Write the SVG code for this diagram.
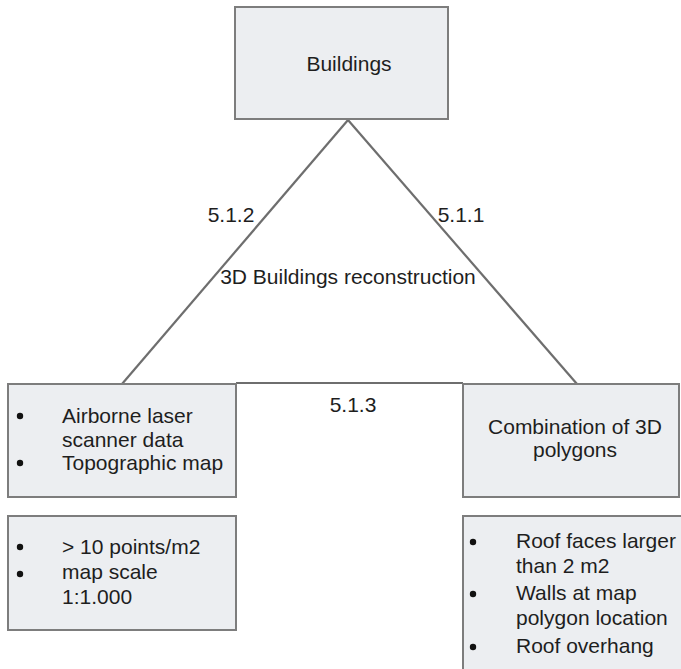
<svg xmlns="http://www.w3.org/2000/svg" width="681" height="669" viewBox="0 0 681 669">
<style>
.box{fill:#eceef1;stroke:#7d7d7d;stroke-width:2}
.ln{stroke:#6e6e6e;stroke-width:2.2;fill:none}
text{font-family:"Liberation Sans",Arial,sans-serif;font-size:21px;fill:#1e1e1e}
.c{text-anchor:middle}
.b{fill:#111}
</style>
<rect width="681" height="669" fill="#ffffff"/>
<g id="connectors">
<line class="ln" x1="348" y1="120" x2="122" y2="384"/>
<line class="ln" x1="348" y1="120" x2="577" y2="384"/>
<line class="ln" x1="236" y1="383" x2="463" y2="383"/>
<text x="231" y="222" class="c">5.1.2</text>
<text x="461" y="222" class="c">5.1.1</text>
<text x="348" y="284" class="c">3D Buildings reconstruction</text>
<text x="353" y="412" class="c">5.1.3</text>
</g>
<g id="buildings">
<rect class="box" x="235" y="7" width="213" height="112"/>
<text x="349" y="71" class="c">Buildings</text>
</g>
<g id="inputs">
<rect class="box" x="8" y="384" width="228" height="113"/>
<circle class="b" cx="20" cy="416" r="3.2"/>
<circle class="b" cx="20" cy="463" r="3.2"/>
<text x="62" y="423">Airborne laser</text>
<text x="62" y="447">scanner data</text>
<text x="62" y="470">Topographic map</text>
</g>
<g id="input-specs">
<rect class="box" x="8" y="516" width="228" height="114"/>
<circle class="b" cx="20" cy="547" r="3.2"/>
<circle class="b" cx="20" cy="574" r="3.2"/>
<text x="62" y="554">&gt; 10 points/m2</text>
<text x="62" y="579">map scale</text>
<text x="62" y="604">1:1.000</text>
</g>
<g id="output">
<rect class="box" x="463" y="384" width="216" height="113"/>
<text x="575" y="434" class="c">Combination of 3D</text>
<text x="575" y="457" class="c">polygons</text>
</g>
<g id="output-specs">
<rect class="box" x="463" y="516" width="240" height="170"/>
<circle class="b" cx="473" cy="542" r="3.2"/>
<circle class="b" cx="473" cy="594" r="3.2"/>
<circle class="b" cx="473" cy="647" r="3.2"/>
<text x="516" y="548">Roof faces larger</text>
<text x="516" y="573">than 2 m2</text>
<text x="516" y="600">Walls at map</text>
<text x="516" y="625">polygon location</text>
<text x="516" y="653">Roof overhang</text>
</g>
</svg>
